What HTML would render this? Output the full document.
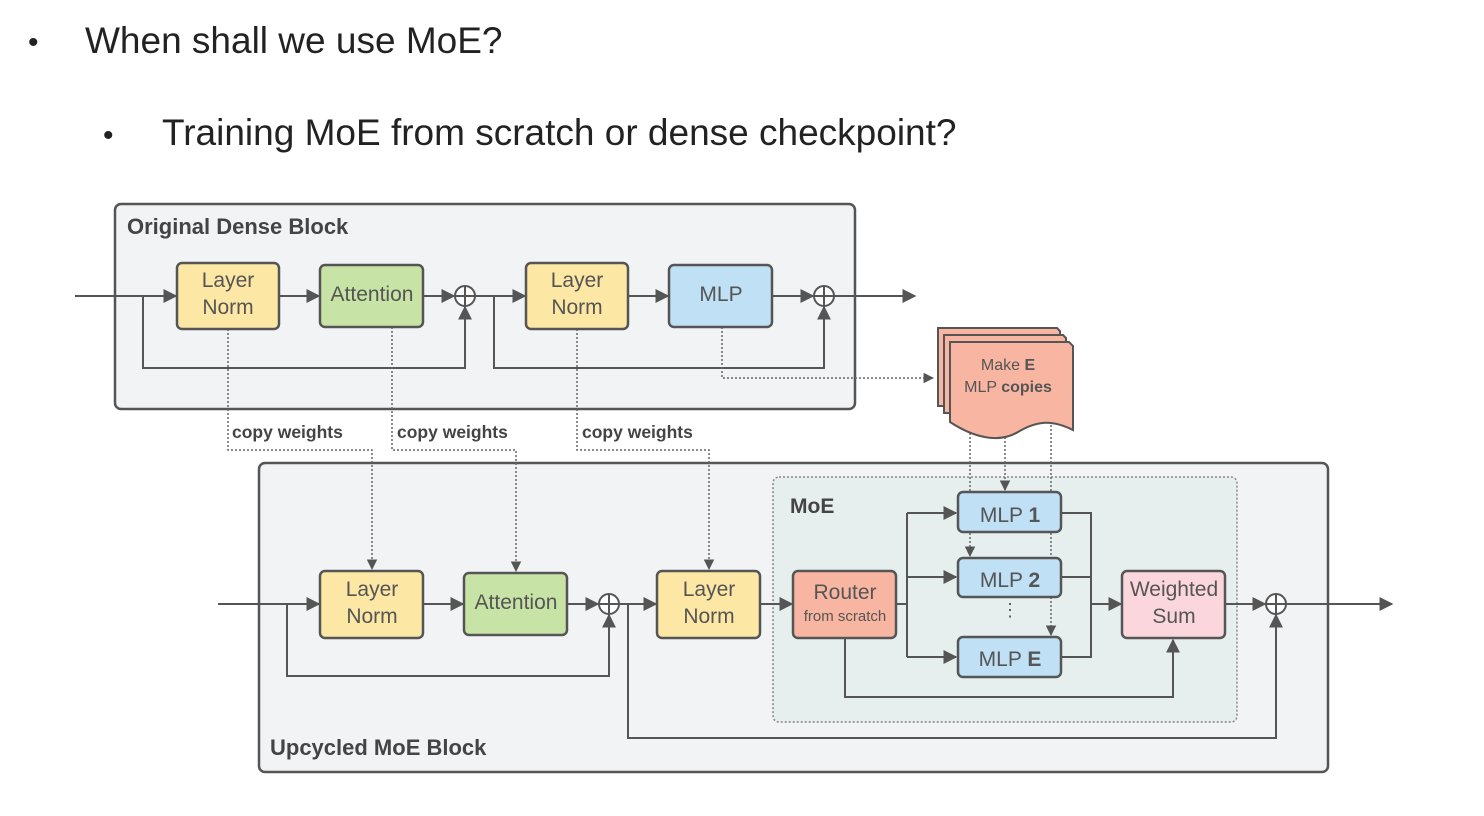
<!DOCTYPE html>
<html><head><meta charset="utf-8"><style>
body{margin:0;background:#fff;width:1484px;height:816px;overflow:hidden}
svg{display:block}
text{font-family:"Liberation Sans",sans-serif}
</style></head><body>
<svg width="1484" height="816" viewBox="0 0 1484 816">
<defs>
<marker id="a" viewBox="0 0 10 10" refX="9" refY="5" markerWidth="7" markerHeight="7" orient="auto"><path d="M0,0L10,5L0,10z" fill="#555"/></marker>
</defs>
<text x="28" y="52" font-size="30" fill="#222">•</text>
<text x="85" y="53" font-size="37" fill="#222">When shall we use MoE?</text>
<text x="103" y="145" font-size="30" fill="#222">•</text>
<text x="162" y="145" font-size="37" fill="#222">Training MoE from scratch or dense checkpoint?</text>

<g stroke="#555" stroke-width="2.5" fill="none">
<rect x="115" y="204" width="740" height="205" rx="6" fill="#f2f3f5"/>
<rect x="259" y="463" width="1069" height="309" rx="6" fill="#f2f3f5"/>
</g>
<rect x="773" y="477" width="464" height="245" rx="6" fill="#e6eeee" stroke="#888" stroke-width="1.5" stroke-dasharray="2,2"/>
<text x="127" y="234" font-size="22" font-weight="bold" fill="#444">Original Dense Block</text>
<text x="270" y="755" font-size="22" font-weight="bold" fill="#444">Upcycled MoE Block</text>
<text x="790" y="513" font-size="21" font-weight="bold" fill="#444">MoE</text>

<g stroke="#555" stroke-width="2" fill="none">
<line x1="75" y1="296" x2="176" y2="296" marker-end="url(#a)"/>
<line x1="279" y1="296" x2="319" y2="296" marker-end="url(#a)"/>
<line x1="423" y1="296" x2="454" y2="296" marker-end="url(#a)"/>
<line x1="475" y1="296" x2="525" y2="296" marker-end="url(#a)"/>
<line x1="628" y1="296" x2="668" y2="296" marker-end="url(#a)"/>
<line x1="772" y1="296" x2="813" y2="296" marker-end="url(#a)"/>
<line x1="834" y1="296" x2="915" y2="296" marker-end="url(#a)"/>
<polyline points="143,296 143,368 465,368 465,307" marker-end="url(#a)"/>
<polyline points="494,296 494,368 824,368 824,307" marker-end="url(#a)"/>
<line x1="218" y1="604" x2="319" y2="604" marker-end="url(#a)"/>
<line x1="423" y1="604" x2="463" y2="604" marker-end="url(#a)"/>
<line x1="567" y1="604" x2="598" y2="604" marker-end="url(#a)"/>
<line x1="620" y1="604" x2="656" y2="604" marker-end="url(#a)"/>
<line x1="760" y1="604" x2="792" y2="604" marker-end="url(#a)"/>
<polyline points="287,604 287,676 609,676 609,615" marker-end="url(#a)"/>
<polyline points="628,604 628,738 1276,738 1276,615" marker-end="url(#a)"/>
<polyline points="845,638 845,697 1173,697 1173,640" marker-end="url(#a)"/>
<line x1="896" y1="604" x2="907" y2="604"/>
<line x1="907" y1="513" x2="907" y2="657"/>
<line x1="907" y1="513" x2="956" y2="513" marker-end="url(#a)"/>
<line x1="907" y1="577" x2="956" y2="577" marker-end="url(#a)"/>
<line x1="907" y1="657" x2="956" y2="657" marker-end="url(#a)"/>
<polyline points="1061,513 1091,513 1091,657 1061,657"/>
<line x1="1061" y1="577" x2="1091" y2="577"/>
<line x1="1091" y1="604" x2="1121" y2="604" marker-end="url(#a)"/>
<line x1="1225" y1="604" x2="1265" y2="604" marker-end="url(#a)"/>
<line x1="1287" y1="604" x2="1392" y2="604" marker-end="url(#a)"/>
</g>
<g stroke="#666" stroke-width="1.5" fill="none" stroke-dasharray="2,2">
<polyline points="228,329 228,450 372,450 372,569" marker-end="url(#a)"/>
<polyline points="392,327 392,450 516,450 516,571" marker-end="url(#a)"/>
<polyline points="577,329 577,450 709,450 709,569" marker-end="url(#a)"/>
<polyline points="722,327 722,378 933,378" marker-end="url(#a)"/>
<line x1="970" y1="425" x2="970" y2="556" marker-end="url(#a)"/>
<line x1="1005" y1="425" x2="1005" y2="490" marker-end="url(#a)"/>
<line x1="1051" y1="425" x2="1051" y2="635" marker-end="url(#a)"/>
</g>
<g font-size="17.5" fill="#444" font-weight="bold">
<text x="232" y="438">copy weights</text>
<text x="397" y="438">copy weights</text>
<text x="582" y="438">copy weights</text>
</g>

<g stroke="#555" stroke-width="2" fill="#fff">
<circle cx="465" cy="296" r="10"/><circle cx="824" cy="296" r="10"/>
<circle cx="609" cy="604" r="10"/><circle cx="1276" cy="604" r="10"/>
</g>
<g stroke="#555" stroke-width="2">
<path d="M455,296h20M465,286v20M814,296h20M824,286v20M599,604h20M609,594v20M1266,604h20M1276,594v20"/>
</g>

<g stroke="#555" stroke-width="2.5">
<rect x="177" y="263" width="102" height="66" rx="5" fill="#fde7a4"/>
<rect x="320" y="265" width="103" height="62" rx="5" fill="#c8e3a6"/>
<rect x="526" y="263" width="102" height="66" rx="5" fill="#fde7a4"/>
<rect x="669" y="265" width="103" height="62" rx="5" fill="#bfe0f5"/>
<rect x="320" y="571" width="103" height="67" rx="5" fill="#fde7a4"/>
<rect x="464" y="573" width="103" height="62" rx="5" fill="#c8e3a6"/>
<rect x="657" y="571" width="103" height="67" rx="5" fill="#fde7a4"/>
<rect x="793" y="571" width="103" height="67" rx="5" fill="#f8b6a2"/>
<rect x="958" y="492" width="103" height="40" rx="5" fill="#bfe0f5"/>
<rect x="958" y="558" width="103" height="39" rx="5" fill="#bfe0f5"/>
<rect x="958" y="637" width="103" height="40" rx="5" fill="#bfe0f5"/>
<rect x="1122" y="571" width="103" height="67" rx="5" fill="#fcd6dd"/>
</g>
<g stroke="#555" stroke-width="2" fill="#f8b6a2">
<path d="M938,328h119l3,3v75h-122z"/>
<path d="M944,335h119l3,3v75h-122z"/>
<path d="M950,342h119l4,4v84c-20,-10 -35,-10 -55,2c-20,12 -45,5 -68,-10z"/>
</g>
<g font-size="21" fill="#555" text-anchor="middle">
<text x="228" y="287">Layer</text><text x="228" y="314">Norm</text>
<text x="372" y="301">Attention</text>
<text x="577" y="287">Layer</text><text x="577" y="314">Norm</text>
<text x="721" y="301">MLP</text>
<text x="372" y="596">Layer</text><text x="372" y="623">Norm</text>
<text x="516" y="609">Attention</text>
<text x="709" y="596">Layer</text><text x="709" y="623">Norm</text>
<text x="845" y="599">Router</text>
<text x="845" y="621" font-size="15">from scratch</text>
<text x="1010" y="522">MLP <tspan font-weight="bold">1</tspan></text>
<text x="1010" y="587">MLP <tspan font-weight="bold">2</tspan></text>
<text x="1010" y="666">MLP <tspan font-weight="bold">E</tspan></text>
<text x="1174" y="596">Weighted</text><text x="1174" y="623">Sum</text>
<text x="1008" y="370" font-size="16">Make <tspan font-weight="bold">E</tspan></text>
<text x="1008" y="392" font-size="16">MLP <tspan font-weight="bold">copies</tspan></text>
<text x="1010" y="616" font-size="18">⋮</text>
</g>
</svg>
</body></html>
